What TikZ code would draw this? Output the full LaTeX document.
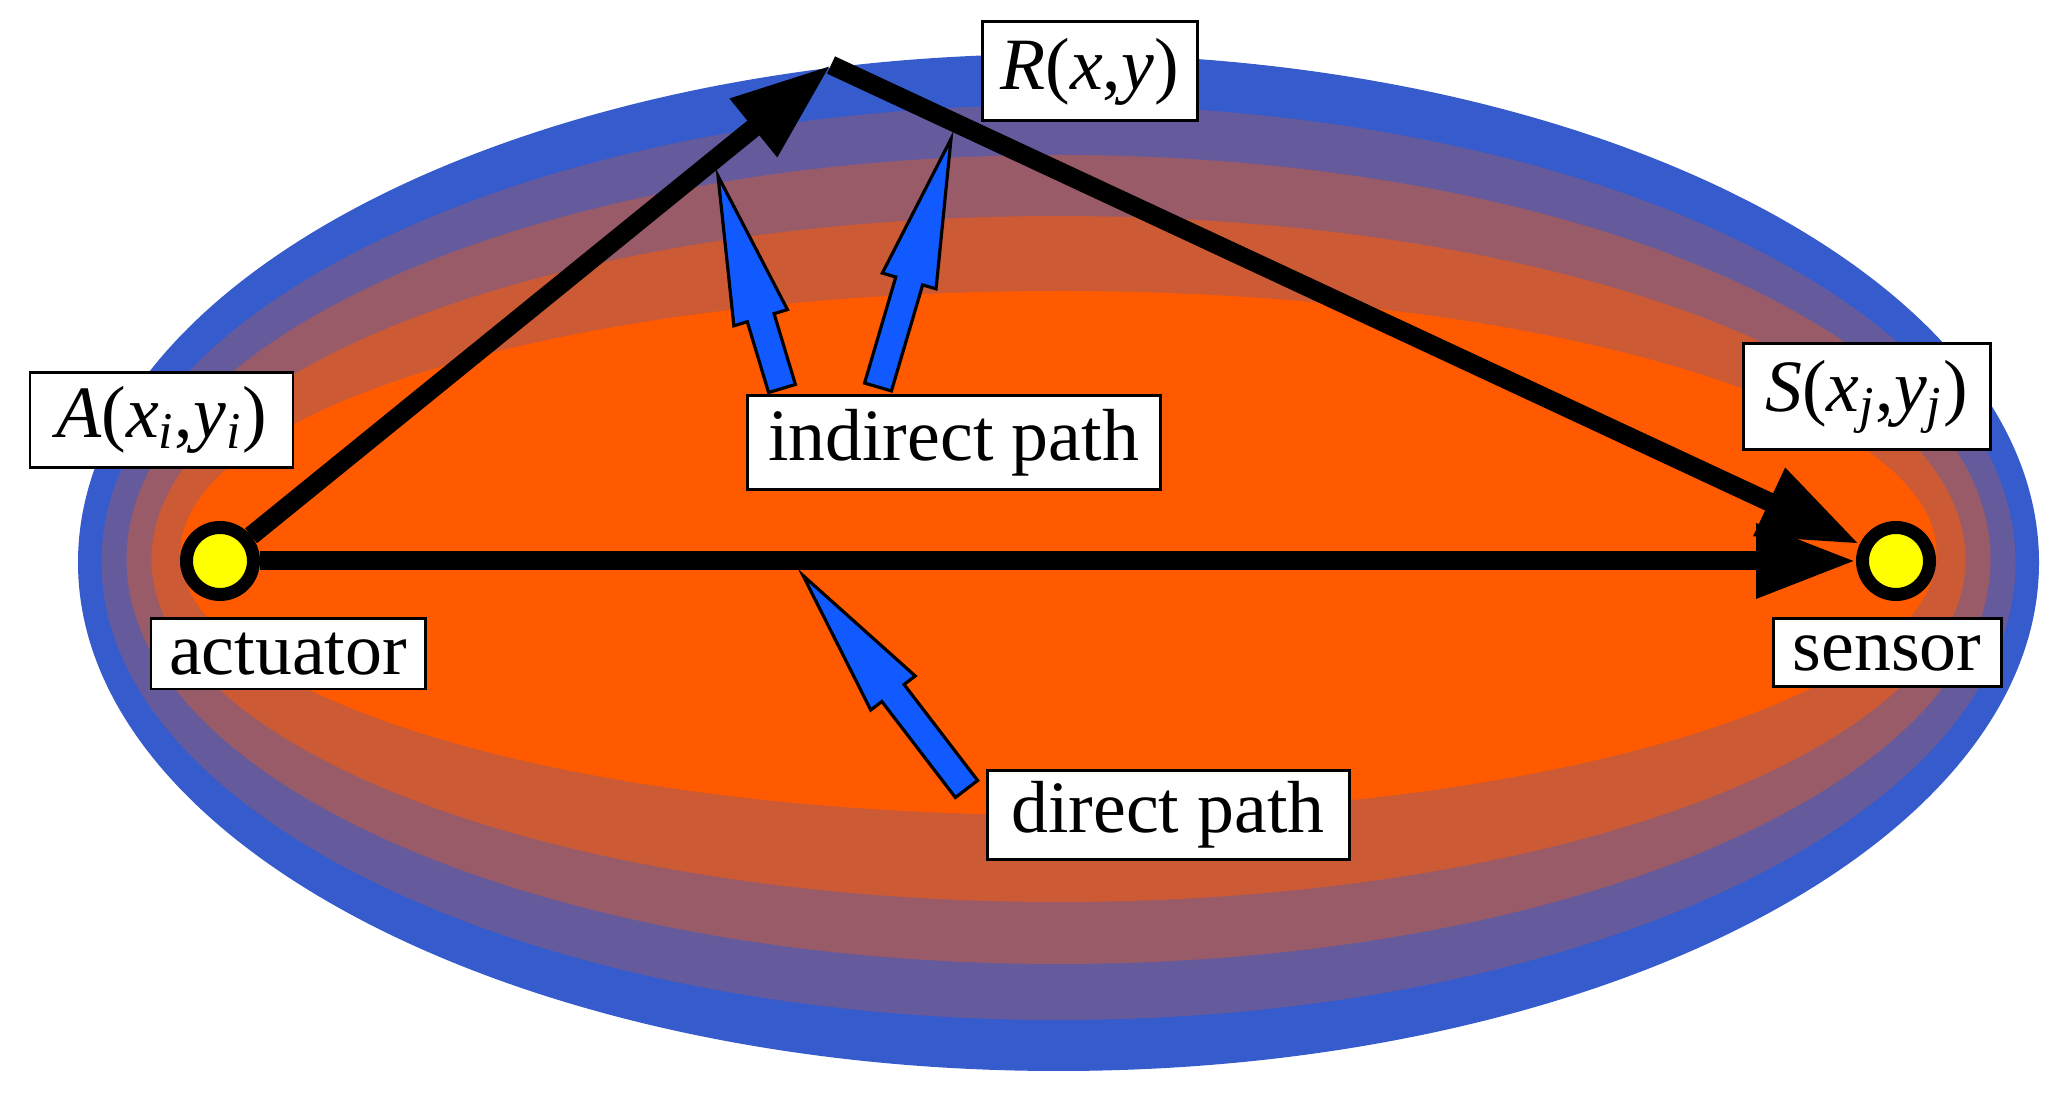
\documentclass[tikz,border=0pt]{standalone}
\usepackage{fontspec}
\setmainfont{Liberation Serif}
\usepackage{tikz}
\usetikzlibrary{arrows.meta,positioning,calc}
\definecolor{bandblue}{RGB}{53,91,205}
\definecolor{bandpurple}{RGB}{101,90,155}
\definecolor{bandmauve}{RGB}{154,91,104}
\definecolor{bandrust}{RGB}{203,90,53}
\definecolor{bandorange}{RGB}{255,90,0}
\definecolor{ptrblue}{RGB}{16,90,255}
\definecolor{spotyellow}{RGB}{255,255,0}
\tikzset{
  spot/.style={circle, draw=black, line width=0.13cm, fill=spotyellow, minimum size=0.67cm, inner sep=0pt},
  ray/.style={line width=0.19cm, -{Triangle[length=1cm,width=0.7cm]}},
  lbl/.style={rectangle, draw=black, line width=0.85pt, fill=white, inner sep=0pt, font=\fontsize{21}{25}\selectfont},
  ptr/.style={fill=ptrblue, draw=black, line width=0.9pt, line join=miter}
}
% block pointer from tail #1 to tip #2
\newcommand{\blockptr}[2]{%
  \coordinate (hb) at ($(#2)!1.48cm!(#1)$);
  \filldraw[ptr] ($(#1)!0.14cm!90:(#2)$) -- ($(hb)!0.14cm!90:(#2)$) -- ($(hb)!0.28cm!90:(#2)$) -- (#2)
    -- ($(hb)!0.28cm!-90:(#2)$) -- ($(hb)!0.14cm!-90:(#2)$) -- ($(#1)!0.14cm!-90:(#2)$) -- cycle;}

\begin{document}
\begin{tikzpicture}
  \useasboundingbox (0,0) rectangle (20.64,10.97);
  % medium as nested bands
  \foreach \cy/\rx/\ry/\col in {5.345/9.805/5.085/bandblue, 5.345/9.57/4.575/bandpurple,
      5.375/9.32/4.045/bandmauve, 5.38/9.07/3.43/bandrust, 5.44/8.78/2.62/bandorange}
    \fill[\col] (10.585,\cy) ellipse [x radius=\rx, y radius=\ry];

  % actuator, reflector, sensor
  \node[spot] (A) at (2.20,5.36) {};
  \node[spot] (S) at (18.96,5.36) {};
  \coordinate (R) at (8.31,10.32);
  \draw[ray] (A) -- (S);
  \draw[ray] (A) -- (R);
  \draw[ray] (R) -- (S);

  % labels
  \node[lbl, minimum width=2.63cm, minimum height=0.95cm] (Albl) at (1.615,6.77)
    {\textit{A}(\textit{x}\textsubscript{\textit{i}},\textit{y}\textsubscript{\textit{i}})};
  \node[lbl, minimum width=2.15cm, minimum height=0.99cm] (Rlbl) at (10.895,10.255)
    {\textit{R}(\textit{x},\textit{y})};
  \node[lbl, minimum width=2.47cm, minimum height=1.06cm] (Slbl) at (18.665,7.00)
    {\textit{S}(\textit{x}\textsubscript{\textit{j}},\textit{y}\textsubscript{\textit{j}})};
  \node[lbl, minimum width=2.74cm, minimum height=0.70cm] (act) at (2.88,4.43) {actuator};
  \node[lbl, minimum width=2.28cm, minimum height=0.68cm] (sen) at (18.87,4.44) {sensor};
  \node[lbl, minimum width=4.13cm, minimum height=0.94cm] (indirect) at (9.535,6.54) {indirect path};
  \node[lbl, minimum width=3.62cm, minimum height=0.89cm] (direct) at (11.68,2.82) {direct path};

  % pointers
  \coordinate (tipa) at (7.18,9.21);
  \coordinate (tipb) at (9.51,9.58);
  \coordinate (tipc) at (8.03,5.215);
  \coordinate (taila) at ($(indirect.north)+(-1.715,0.06)$);
  \coordinate (tailb) at ($(indirect.north)+(-0.755,0.075)$);
  \coordinate (tailc) at ($(direct.north west)+(-0.19,-0.20)$);
  \blockptr{taila}{tipa}
  \blockptr{tailb}{tipb}
  \blockptr{tailc}{tipc}
\end{tikzpicture}
\end{document}
